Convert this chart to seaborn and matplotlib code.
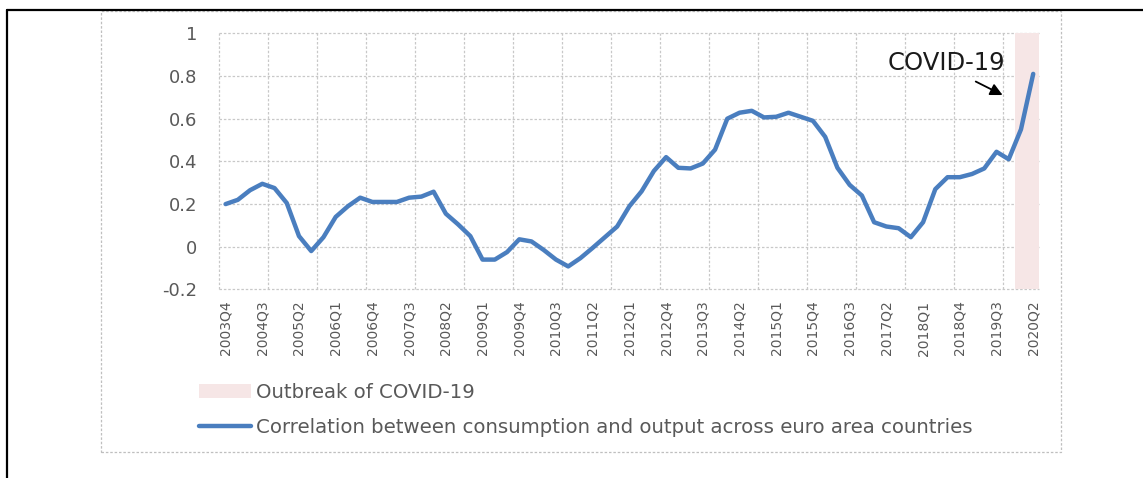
import matplotlib
matplotlib.use("Agg")
import matplotlib.pyplot as plt
import seaborn as sns
import pandas as pd
from matplotlib.lines import Line2D
from matplotlib.patches import Rectangle, Patch

# Quarters 2003Q4 .. 2020Q2
quarters = [f"{y}Q{q}" for y in range(2003, 2021) for q in range(1, 5)]
quarters = quarters[quarters.index("2003Q4"):quarters.index("2020Q2") + 1]

correlation = [
    0.20, 0.22, 0.265, 0.295, 0.275, 0.205, 0.05, -0.02, 0.045, 0.14,
    0.19, 0.23, 0.21, 0.21, 0.21, 0.23, 0.235, 0.258, 0.155, 0.105,
    0.05, -0.06, -0.06, -0.025, 0.035, 0.025, -0.015, -0.06, -0.092, -0.053,
    -0.005, 0.045, 0.095, 0.19, 0.26, 0.355, 0.42, 0.37, 0.367, 0.39,
    0.455, 0.60, 0.628, 0.637, 0.606, 0.609, 0.628, 0.609, 0.59, 0.515,
    0.37, 0.29, 0.24, 0.115, 0.095, 0.087, 0.045, 0.115, 0.27, 0.326,
    0.326, 0.341, 0.367, 0.445, 0.41, 0.55, 0.81,
]
covid_quarters = ["2020Q1", "2020Q2"]

df = pd.DataFrame({"idx": range(len(quarters)), "quarter": quarters, "corr": correlation})

sns.set_theme(style="white")
plt.rcParams["font.family"] = ["DejaVu Sans"]
grey = "#595959"
blue = "#4a7ebf"
shade = "#f6e6e6"
gridc = "#c8c8c8"

fig = plt.figure(figsize=(11.43, 4.78), dpi=100)
ax = fig.add_axes([0.192, 0.3944, 0.9093 - 0.192, 0.9303 - 0.3944])

# covid shading (as full-height bars)
cov_idx = [quarters.index(q) for q in covid_quarters]
ax.bar(cov_idx, [1.2] * len(cov_idx), bottom=-0.2, width=1.0, color=shade, linewidth=0, zorder=1)

sns.lineplot(data=df, x="idx", y="corr", ax=ax, color=blue, linewidth=3.2, zorder=3)

ax.set_xlim(-0.5, len(quarters) - 0.5)
ax.set_ylim(-0.2, 1.0)
ax.set_yticks([-0.2, 0, 0.2, 0.4, 0.6, 0.8, 1.0])
ax.set_yticklabels(["-0.2", "0", "0.2", "0.4", "0.6", "0.8", "1"])
ax.set_xticks(range(0, len(quarters), 3))
ax.set_xticklabels(quarters[::3], rotation=90)
ax.tick_params(axis="x", labelsize=10, colors=grey, length=0, pad=8)
ax.tick_params(axis="y", labelsize=13, colors=grey, length=0, pad=16)
ax.set_xlabel("")
ax.set_ylabel("")
for s in ax.spines.values():
    s.set_visible(False)

# grid lines
for yv in [-0.2, 0, 0.2, 0.4, 0.6, 0.8, 1.0]:
    ax.axhline(yv, color=gridc, lw=0.9, ls=(0, (2, 1.5)), zorder=0, clip_on=False)
for xv in range(0, len(quarters) - 2, 4):
    ax.axvline(xv - 0.5, color=gridc, lw=0.9, ls=(0, (2, 1.5)), zorder=0, clip_on=False)

# annotation
ax.annotate("", xy=(63.7, 0.705), xytext=(61.1, 0.78),
            arrowprops=dict(arrowstyle="-|>,head_length=0.6,head_width=0.3", color="black", lw=1.3))
ax.text(58.9, 0.862, "COVID-19", ha="center", va="center", fontsize=17.5, color="#1a1a1a")

# legend
handles = [Patch(facecolor=shade, edgecolor="none"), Line2D([0], [0], color=blue, lw=3.2)]
labels = ["Outbreak of COVID-19",
          "Correlation between consumption and output across euro area countries"]
fig.legend(handles, labels, loc="upper left", bbox_to_anchor=(199 / 1143, 1 - 383 / 478),
           frameon=False, fontsize=14.2, labelcolor=grey, handlelength=2.65,
           handletextpad=0.25, labelspacing=0.8, borderpad=0, borderaxespad=0)

# chart box and page borders
fig.add_artist(Rectangle((101 / 1143, 1 - 452 / 478), 960 / 1143, 441 / 478,
                         transform=fig.transFigure, fill=False, edgecolor="#bfbfbf",
                         lw=0.9, ls=(0, (2, 1.5))))
fig.add_artist(Line2D([7 / 1143, 1], [1 - 9.5 / 478, 1 - 9.5 / 478], transform=fig.transFigure,
                      color="black", lw=1.6))
fig.add_artist(Line2D([7 / 1143, 7 / 1143], [0, 1 - 9.5 / 478], transform=fig.transFigure,
                      color="black", lw=1.6))

fig.savefig("out.png", dpi=100)
